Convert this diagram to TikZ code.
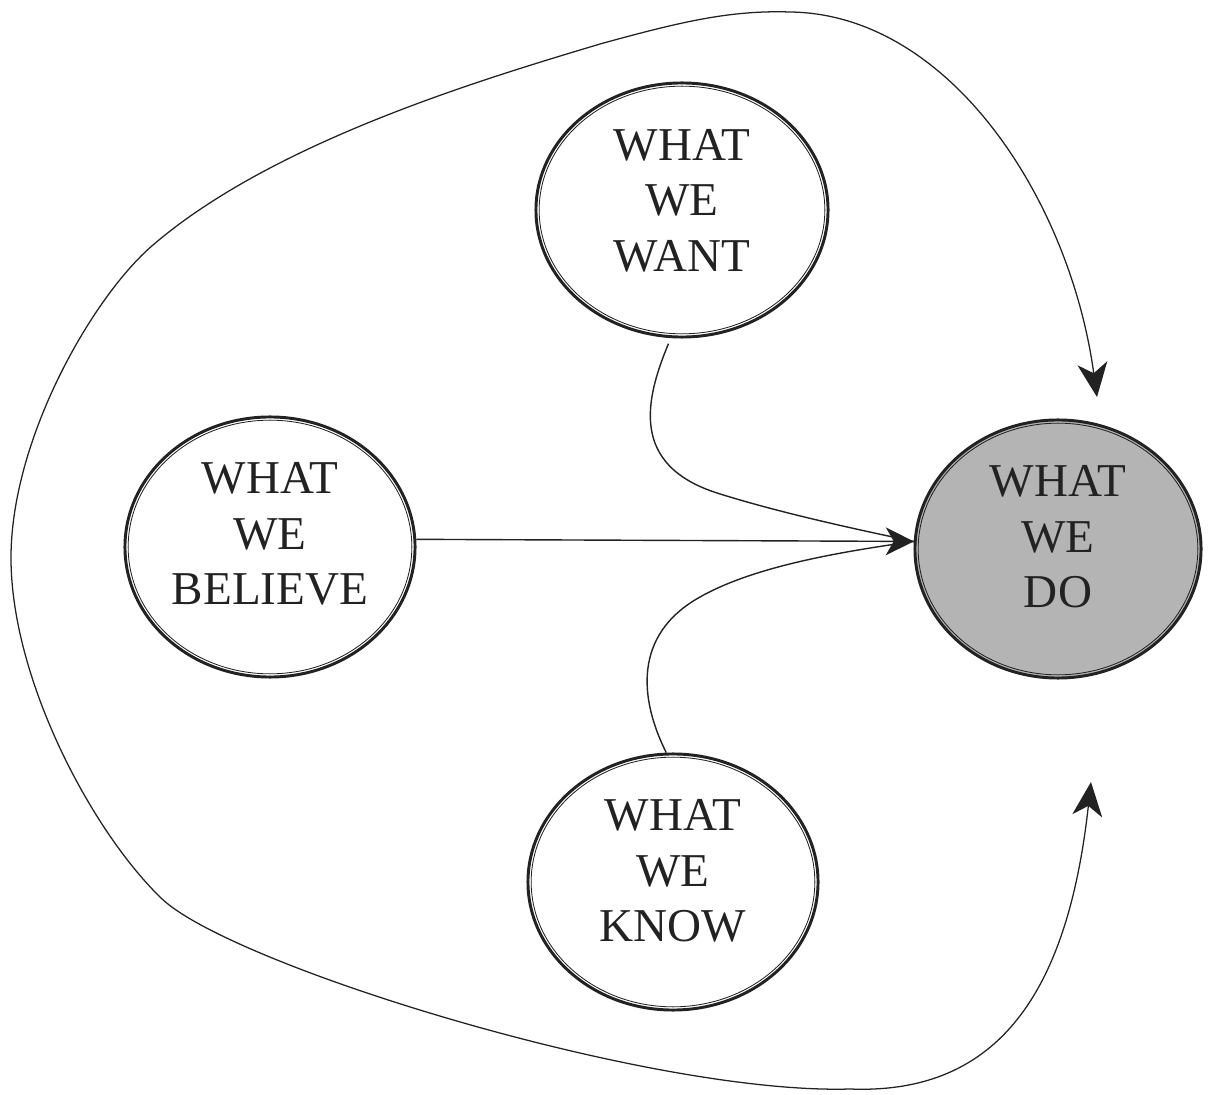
\documentclass[tikz,border=0pt]{standalone}
\usepackage{fontspec}
\setmainfont{Liberation Serif}
\usetikzlibrary{shapes.geometric, arrows.meta}
\definecolor{ink}{HTML}{222222}
\definecolor{shade}{HTML}{B4B4B4}
\begin{document}
\begin{tikzpicture}[x=0.025cm, y=-0.025cm,
  oval/.style={ellipse, draw=ink, line width=2.1pt, inner sep=0pt},
  innerline/.style={draw=ink, line width=0.6pt},
  lbl/.style={align=center, text=ink, font=\fontsize{33.5}{39.5}\selectfont, inner sep=0pt},
  conn/.style={draw=ink, line width=1pt},
  loopline/.style={draw=ink, line width=0.9pt},
  midtip/.style={-{Stealth[length=0.7cm, width=0.7cm, inset=0.2cm]}}
]
\useasboundingbox (0,0) rectangle (1211,1095);

% nodes
\node[oval, minimum width=7.3cm, minimum height=6.35cm] (want) at (682,210) {};
\draw[innerline] (want.center) ellipse [x radius=3.57cm, y radius=3.095cm];
\node[lbl] (wantT) at ([yshift=0.24cm]want.center) {WHAT\\WE\\WANT};

\node[oval, minimum width=7.25cm, minimum height=6.5cm] (believe) at (270,547) {};
\draw[innerline] (believe.center) ellipse [x radius=3.545cm, y radius=3.17cm];
\node[lbl] (believeT) at ([yshift=0.32cm]believe.center) {WHAT\\WE\\BELIEVE};

\node[oval, fill=shade, minimum width=7.15cm, minimum height=6.45cm] (do) at (1058,549) {};
\draw[innerline] (do.center) ellipse [x radius=3.495cm, y radius=3.145cm];
\node[lbl] (doT) at ([yshift=0.3cm]do.center) {WHAT\\WE\\DO};

\node[oval, minimum width=7.25cm, minimum height=6.4cm] (know) at (673,882) {};
\draw[innerline] (know.center) ellipse [x radius=3.545cm, y radius=3.12cm];
\node[lbl] (knowT) at ([yshift=0.27cm]know.center) {WHAT\\WE\\KNOW};

% connectors into WHAT WE DO
\coordinate (doIn) at (do.177);
\draw[conn, midtip] (believe.3) -- (doIn);
\draw[conn, shorten <=0.15cm] (want.265) .. controls (645,400) and (630,465) .. (717,493)
      .. controls (777,512) and (850,528) .. (doIn);
\draw[conn] (know.93) .. controls (640,700) and (632,635) .. (700,597)
      .. controls (755,566) and (840,552) .. (doIn);

% big outer loop
\coordinate (topTip) at (1097,397);
\coordinate (botTip) at (1091,782);
\draw[loopline, {Stealth[length=0.85cm, width=0.75cm, inset=0.25cm]}-{Stealth[length=0.85cm, width=0.75cm, inset=0.25cm]}]
  (botTip) .. controls (1068,990) and (1000,1095) .. (850,1089)
  .. controls (650,1095) and (230,965) .. (161,898)
  .. controls (91,830) and (12,680) .. (11,560)
  .. controls (10,440) and (93,296) .. (153,245)
  .. controls (273,142) and (480,80) .. (600,44)
  .. controls (680,22) and (730,10) .. (790,12)
  .. controls (950,14) and (1070,200) .. (topTip);
\end{tikzpicture}
\end{document}
